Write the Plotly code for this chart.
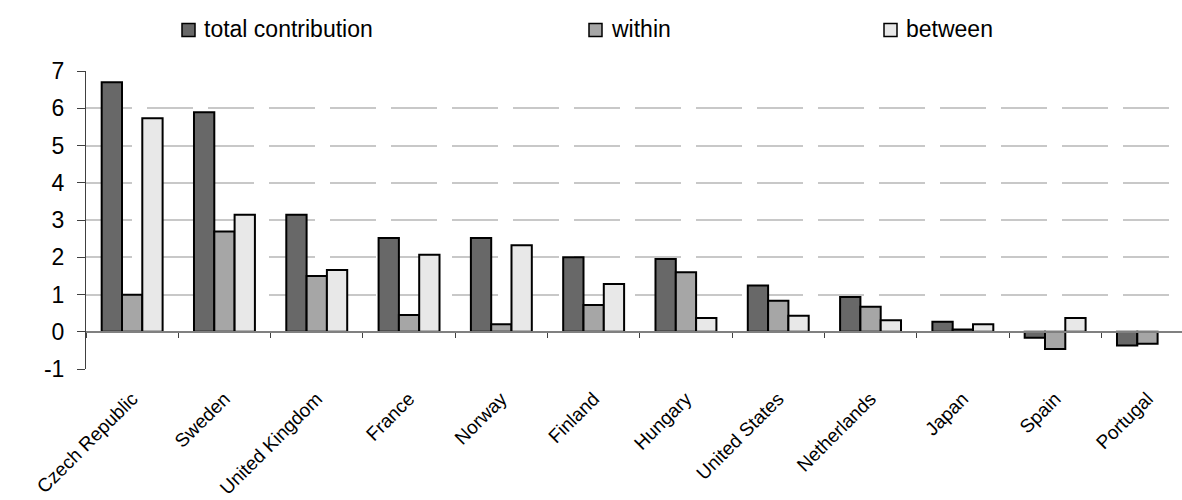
import plotly.graph_objects as go

countries = ["Czech Republic", "Sweden", "United Kingdom", "France", "Norway",
             "Finland", "Hungary", "United States", "Netherlands", "Japan",
             "Spain", "Portugal"]
total_contribution = [6.70, 5.89, 3.14, 2.52, 2.52, 2.00, 1.95, 1.24, 0.93, 0.27, -0.16, -0.37]
within = [0.99, 2.69, 1.50, 0.45, 0.20, 0.72, 1.60, 0.83, 0.67, 0.06, -0.46, -0.32]
between = [5.73, 3.14, 1.66, 2.07, 2.32, 1.28, 0.37, 0.43, 0.31, 0.20, 0.37, None]
series_names = ["total contribution", "within", "between"]
series_colors = ["#686868", "#a6a6a6", "#e8e8e8"]
y_ticks = [-1, 0, 1, 2, 3, 4, 5, 6, 7]
y_tick_text = ["-1", "0", "1", "2", "3", "4", "5", "6", "7"]

W, H = 1182, 500
left, right, top, bottom = 86, 0, 71, 131
plot_w, plot_h = W - left - right, H - top - bottom
cat_px = 92.3
x_hi = -0.5 + plot_w / cat_px
FONT = "Liberation Sans, Arial, sans-serif"


def px_x(px):
    return (px - left) / plot_w


def px_y(py):
    return (H - bottom - py) / plot_h


fig = go.Figure()
for name, vals, color in zip(series_names, [total_contribution, within, between], series_colors):
    fig.add_trace(go.Bar(
        x=list(range(len(countries))), y=vals, name=name,
        marker=dict(color=color, line=dict(color="#000000", width=2)),
        showlegend=False,
    ))

# axis line at zero with tick marks between categories
fig.add_trace(go.Scatter(x=[-0.5], y=[0], xaxis="x2", mode="markers",
                         marker=dict(opacity=0), showlegend=False,
                         hoverinfo="skip"))

# legend row: swatch + label for each series
legend_symbol_left = [182, 589, 884]
shapes, annotations = [], []
for name, color, sx in zip(series_names, series_colors, legend_symbol_left):
    shapes.append(dict(type="rect", xref="paper", yref="paper",
                       x0=px_x(sx), x1=px_x(sx + 13), y0=px_y(36.5), y1=px_y(23.5),
                       fillcolor=color, line=dict(color="#000000", width=1.5)))
    annotations.append(dict(xref="paper", yref="paper", x=px_x(sx + 20), y=px_y(29.5),
                            xanchor="left", yanchor="middle", showarrow=False,
                            text=name, font=dict(family=FONT, size=23, color="#000000")))

fig.update_layout(
    width=W, height=H,
    margin=dict(l=left, r=right, t=top, b=bottom, pad=0),
    paper_bgcolor="#ffffff", plot_bgcolor="#ffffff",
    barmode="group", bargap=0.34, bargroupgap=0.0,
    font=dict(family=FONT, size=18, color="#000000"),
    showlegend=False,
    shapes=shapes, annotations=annotations,
    xaxis=dict(
        range=[-0.5, x_hi], tickmode="array",
        tickvals=list(range(len(countries))), ticktext=countries,
        tickangle=-45, showgrid=False, showline=False, zeroline=False,
        ticks="", ticklabelstandoff=14,
        tickfont=dict(family=FONT, size=19, color="#000000"),
    ),
    xaxis2=dict(
        overlaying="x", anchor="free", position=1 / 8,
        range=[-0.5, x_hi], tickmode="array",
        tickvals=[i - 0.5 for i in range(len(countries) + 1)],
        showticklabels=False, ticks="outside", ticklen=5, tickwidth=1,
        tickcolor="#404040", showline=True, linecolor="#808080", linewidth=1.5,
        showgrid=False, zeroline=False,
    ),
    yaxis=dict(
        range=[-1, 7], tickmode="array", tickvals=y_ticks, ticktext=y_tick_text,
        showgrid=True, gridcolor="#c8c8c8", gridwidth=1.5, griddash="46px,15px",
        zeroline=False, showline=True, linecolor="#404040", linewidth=1,
        ticks="outside", ticklen=8, tickcolor="#404040", tickwidth=1,
        ticklabelstandoff=8,
        tickfont=dict(family=FONT, size=23, color="#000000"),
    ),
)

fig.write_html("out.html")
